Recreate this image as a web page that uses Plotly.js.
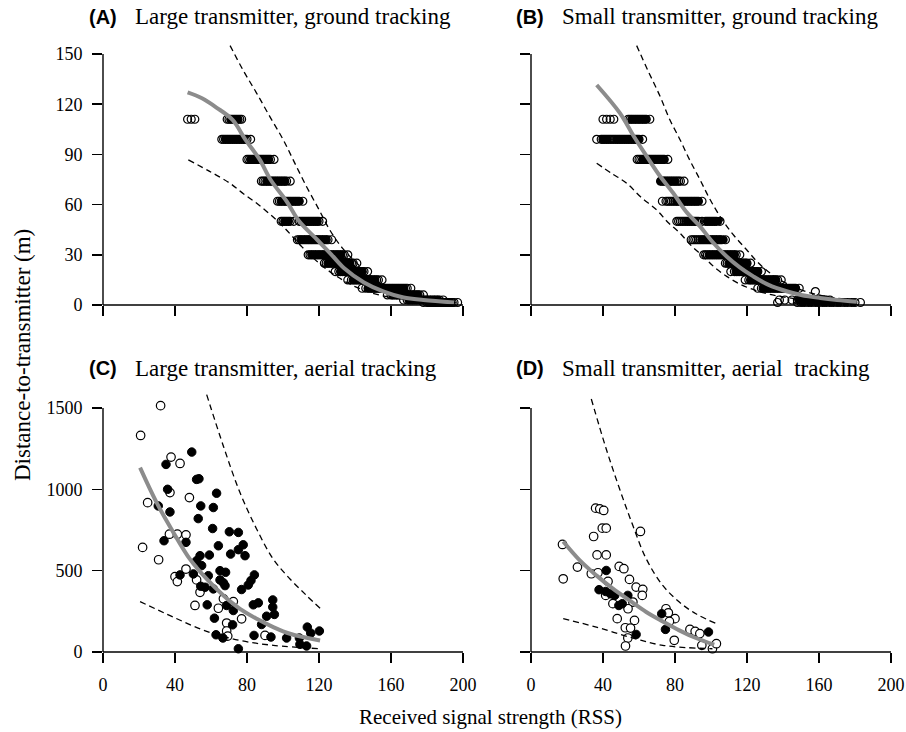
<!DOCTYPE html>
<html>
<head>
<meta charset="utf-8">
<script src="https://cdn.plot.ly/plotly-3.0.1.min.js"></script>
<style>html,body{margin:0;padding:0;background:#fff;}#chart{width:906px;height:732px;}</style>
</head>
<body>
<div id="chart"></div>
<script>
// ---------- DATA ----------
// Panel A: Large transmitter, ground tracking (distance levels and RSS readings per level)
const aDist = [111, 99, 87, 74, 62, 50, 39, 30, 25, 20, 15, 10, 6, 3, 1.5];
const aRss = [
  [47, 49, 51, 69, 70, 71, 72, 73, 74, 75, 76, 77],
  [66, 67, 68, 69, 70, 71, 72, 73, 74, 75, 76, 77, 78, 79, 80, 82],
  [80, 81, 82, 83, 84, 85, 86, 87, 88, 89, 90, 91, 92, 93, 95],
  [88, 89, 90, 91, 92, 93, 94, 95, 96, 97, 98, 99, 100, 101, 102, 104],
  [97, 98, 99, 100, 101, 102, 103, 104, 105, 106, 107, 108, 109, 111],
  [99, 100, 101, 102, 103, 104, 106, 109, 110, 111, 112, 113, 114, 115, 116, 117, 118, 119, 120, 122],
  [108, 109, 110, 111, 112, 113, 114, 115, 116, 117, 118, 119, 120, 121, 122, 123, 124, 125, 127],
  [114, 115, 116, 117, 118, 119, 120, 121, 122, 123, 124, 125, 126, 127, 128, 129, 130, 131, 132, 133, 134, 136],
  [123, 124, 125, 126, 127, 128, 129, 130, 131, 132, 133, 134, 135, 136, 137, 138, 139, 141],
  [129, 131, 132, 133, 134, 135, 136, 137, 138, 139, 140, 141, 142, 143, 144, 145, 147],
  [136, 138, 139, 140, 141, 142, 143, 144, 145, 146, 147, 148, 149, 150, 151, 152, 153, 155],
  [144, 146, 148, 149, 150, 151, 152, 153, 154, 155, 156, 157, 158, 159, 160, 161, 162, 163, 164, 165, 166, 167, 168, 169, 171],
  [158, 160, 161, 162, 163, 164, 165, 166, 167, 168, 169, 170, 171, 172, 173, 174, 175, 176, 178],
  [167, 169, 170, 171, 172, 173, 174, 175, 176, 177, 178, 179, 180, 181, 182, 183, 184, 185, 186, 187, 189],
  [178, 180, 181, 182, 183, 184, 185, 186, 187, 188, 189, 190, 191, 192, 193, 194, 195, 197]
];
// dark (filled) readings at the core of each level in panel A
const aFillRss = [
  [71, 73, 75],
  [68, 70, 72, 74, 76, 78],
  [82, 84, 86, 88, 90, 92],
  [91, 93, 95, 97, 99, 101],
  [99, 101, 103, 105, 107, 109],
  [101, 103, 111, 113, 115, 117, 119],
  [110, 112, 114, 116, 118, 120, 122, 124],
  [116, 118, 120, 122, 124, 126, 128, 130, 132],
  [125, 127, 129, 131, 133, 135, 137],
  [132, 134, 136, 138, 140, 142, 144],
  [139, 141, 143, 145, 147, 149, 151],
  [147, 149, 151, 153, 155, 157, 159, 161, 163, 165, 167],
  [161, 163, 165, 167, 169, 171, 173, 175],
  [170, 172, 174, 176, 178, 180, 182, 184, 186],
  [181, 183, 185, 187, 189, 191, 193]
];
const aFitX = [47, 55, 63, 72, 79, 87, 93, 102, 109, 119, 127, 134, 145, 156, 167, 178, 195];
const aFitY = [127, 123.5, 118, 110.6, 99, 87, 75, 62, 50, 39, 30, 22, 13.5, 8, 4.5, 3, 1.5];
const aUpX = [70.6, 78, 85.4, 93, 100.2, 106, 113.1, 120, 126, 133, 141, 150, 159.4, 168, 178, 196];
const aUpY = [155, 140, 126.5, 112, 98.6, 86, 70.7, 57, 44.8, 34, 25, 16, 9, 5.5, 3, 1.5];
const aLoX = [47.4, 59, 70.6, 78, 85.4, 93, 100.2, 110.4, 120, 130, 140, 150, 160, 170, 180, 195];
const aLoY = [86.7, 80, 72.7, 66.5, 60.8, 54, 46.8, 34.9, 25, 17, 11, 7, 4.5, 3, 2, 1];

// Panel B: Small transmitter, ground tracking
const bDist = [111, 99, 87, 74, 62, 50, 39, 30, 25, 20, 15, 10, 8, 3, 1.5];
const bRss = [
  [40, 42, 44, 46, 54, 55, 56, 57, 58, 59, 60, 61, 62, 63, 64, 66],
  [36.5, 39, 40, 41, 42, 43, 44, 45, 46, 47, 48, 49, 50, 51, 52, 53, 54, 55, 56, 57, 58, 59, 60, 62],
  [59, 60, 61, 62, 63, 64, 65, 66, 67, 68, 69, 70, 71, 72, 73, 74, 76],
  [72, 73, 74, 75, 76, 77, 78, 79, 80, 81, 82, 83, 85],
  [73, 75, 76, 77, 78, 79, 80, 81, 82, 83, 84, 85, 86, 87, 88, 89, 90, 91, 92, 93, 95],
  [81, 82, 83, 84, 85, 86, 87, 88, 89, 90, 91, 92, 93, 95, 97, 98, 99, 100, 101, 102, 103, 105],
  [89, 90, 91, 92, 93, 94, 95, 96, 97, 98, 99, 100, 101, 102, 103, 104, 105, 106, 108],
  [96, 97, 98, 99, 100, 101, 102, 103, 104, 105, 106, 107, 108, 109, 110, 111, 112, 113, 114, 116],
  [108, 109, 110, 111, 112, 113, 114, 115, 116, 117, 118, 119, 120, 122],
  [111, 113, 114, 115, 116, 117, 118, 119, 120, 121, 122, 123, 124, 125, 126, 128],
  [119, 121, 122, 123, 124, 125, 126, 127, 128, 129, 130, 131, 132, 133, 134, 135, 136, 137, 139],
  [126, 128, 129, 130, 131, 132, 133, 134, 135, 136, 137, 138, 139, 140, 141, 142, 143, 144, 145, 146, 147, 149],
  [158],
  [138, 141, 145, 148, 149, 150, 151, 152, 153, 154, 155, 156, 157, 158, 159, 160, 161, 162, 163, 164, 166],
  [137, 148, 150, 152, 154, 156, 158, 160, 162, 164, 166, 168, 170, 172, 174, 176, 178, 180, 183]
];
const bFillRss = [
  [56, 58, 60, 62, 64],
  [40, 42, 48, 50, 52, 54, 56, 58, 60],
  [62, 64, 66, 68, 70, 72, 74],
  [72, 74, 76, 78, 80],
  [81, 83, 85, 87, 89, 91, 93],
  [87, 89, 91, 98, 100, 102, 104],
  [95, 97, 99, 101, 103, 105, 107],
  [99, 101, 103, 105, 107, 109, 111, 113],
  [110, 112, 114, 116, 118, 120],
  [114, 116, 118, 120, 122, 124, 126],
  [122, 124, 126, 128, 130, 132, 134, 136],
  [129, 131, 133, 135, 137, 139, 141, 143, 145, 147],
  [],
  [149, 151, 153, 155, 157, 159, 161, 163],
  [151, 155, 159, 163, 167, 171, 175, 179]
];
const bFitX = [36.5, 49.4, 57, 64.3, 71, 79, 86, 93.9, 101, 108.7, 116, 123.5, 132, 142, 150, 160.6, 170, 181];
const bFitY = [131.5, 114.7, 101, 88.8, 78, 66.9, 56, 47, 37.5, 29, 22.5, 17.1, 12, 8.2, 6, 4.2, 3, 2];
const bUpX = [58.7, 65, 71.7, 77, 82.8, 88, 93.9, 99, 105, 112, 119.8, 126, 132.8, 140, 150, 160, 170, 182];
const bUpY = [155, 140, 124.7, 111, 98.8, 87, 74.9, 64, 53, 42.5, 33, 25.5, 19.1, 14, 9, 6, 4, 2.5];
const bLoX = [36.5, 45, 53.2, 61, 69.8, 76, 82.8, 89, 95.7, 102, 108.7, 116, 124, 132, 142, 152, 165, 182];
const bLoY = [84.7, 78.5, 72.7, 64.5, 56.8, 49.5, 42.9, 35.5, 29, 22.5, 17.1, 12.5, 9, 6.5, 4.5, 3, 2, 1.2];

// Panel C: Large transmitter, aerial tracking
const cOpenX = [32, 20.9, 37.8, 42.8, 37.2, 48, 24.8, 22, 30.9, 36.9, 41.3, 46.1, 40, 41.3, 46.1, 52, 53.9, 51.1, 64.1, 66.9, 72.4, 68.7, 68.7, 69.3, 77, 90];
const cOpenY = [1514, 1331, 1198, 1159, 980, 949, 918, 643, 567, 724, 724, 720, 463, 433, 510, 443, 367, 286, 269, 327, 310, 178, 129, 98, 204, 102];
const cFillX = [49.3, 35, 52, 53.3, 35.9, 37.2, 30.7, 63.1, 54.3, 61.3, 52.9, 60.9, 64.1, 70.2, 75.2, 77.9, 75.2, 70.9, 78.9, 46.1, 33.9, 53.9, 52, 59.1, 54.8, 58.5, 50.2, 42.8, 65, 68.1, 65, 67.8, 66.9, 54.3, 56.7, 61.3, 57.9, 61.9, 68.7, 72.4, 72, 84.1, 82.2, 80.7, 77, 83.5, 86.3, 94.3, 94.3, 95.2, 90.9, 88.1, 62.8, 66.6, 83.9, 93.3, 102, 109.1, 109.4, 113.5, 115.4, 120.2, 113.1, 75.2];
const cFillY = [1229, 1153, 1061, 1065, 1000, 861, 898, 976, 898, 888, 820, 759, 653, 739, 735, 659, 629, 602, 592, 674, 684, 592, 561, 596, 531, 469, 480, 474, 500, 490, 443, 408, 425, 404, 398, 388, 290, 208, 286, 255, 167, 474, 439, 412, 384, 290, 302, 320, 276, 231, 220, 169, 106, 86, 102, 92, 86, 86, 47, 153, 116, 129, 37, 20];
const cFitX = [20.6, 29.8, 39.1, 48.3, 57.6, 66.9, 76.1, 85.4, 94.6, 103.9, 120.6];
const cFitY = [1133, 918, 735, 571, 449, 347, 265, 204, 153, 112, 71];
const cUpX = [57.6, 66.9, 76.1, 85.4, 94.6, 103.9, 113.1, 120.6];
const cUpY = [1582, 1265, 980, 755, 571, 449, 347, 269];
const cLoX = [20.6, 39.1, 57.6, 76.1, 94.6, 120.6];
const cLoY = [310, 214, 127, 71, 41, 20];

// Panel D: Small transmitter, aerial tracking
const dOpenX = [17.5, 17.9, 25.8, 33.5, 34.8, 35.9, 38.2, 40.4, 39.6, 41.8, 36.7, 41.8, 37.2, 42.8, 41.5, 45.5, 47.9, 49, 51.6, 54.7, 58.4, 62.1, 61.8, 60.8, 56.6, 53.9, 57.5, 52.4, 55.3, 53.8, 52.5, 75, 76.3, 80, 76.9, 79.6, 88.3, 91.2, 93.8, 94.9, 100.8, 103];
const dOpenY = [661, 450, 522, 481, 710, 884, 880, 870, 761, 761, 597, 597, 487, 434, 348, 297, 205, 526, 512, 446, 399, 385, 348, 741, 307, 266, 194, 149, 147, 86, 37, 266, 241, 205, 188, 72, 139, 127, 113, 41, 20, 51];
const dFillX = [41.8, 37.8, 41.5, 44.1, 46.5, 53.8, 48.8, 50.7, 58.4, 72.6, 74.7, 98.6];
const dFillY = [501, 383, 372, 358, 348, 348, 286, 297, 108, 235, 139, 123];
const dFitX = [17.9, 27.1, 36.3, 45.5, 54.7, 64, 73.2, 82.4, 91.6, 101.8];
const dFitY = [679, 563, 471, 389, 317, 246, 188, 133, 86, 45];
const dUpX = [33.5, 41.8, 49.2, 56.6, 64, 73.2, 82.4, 91.6, 103];
const dUpY = [1555, 1248, 1003, 777, 573, 409, 307, 235, 174];
const dLoX = [17.9, 36.3, 54.7, 73.2, 100.8];
const dLoY = [205, 153, 92, 41, 20];

const xTicks = [0, 40, 80, 120, 160, 200];
const yTicksGround = [0, 30, 60, 90, 120, 150];
const yTicksAerial = [0, 500, 1000, 1500];

const panelLetters = ['(A)', '(B)', '(C)', '(D)'];
const panelTitles = ['Large transmitter, ground tracking', 'Small transmitter, ground tracking',
                     'Large transmitter, aerial tracking', 'Small transmitter, aerial\u00a0 tracking'];
const xTitle = 'Received signal strength (RSS)';
const yTitle = 'Distance-to-transmitter (m)';

// ---------- BUILD ----------
const W = 906, H = 732;
const SERIF = 'Liberation Serif';
const SANS = 'Liberation Sans';

function flatten(levels, rows) {
  const x = [], y = [];
  rows.forEach((r, i) => r.forEach(v => { x.push(v); y.push(levels[i]); }));
  return {x, y};
}

const groundMarker = {symbol: 'circle-open', size: 8, color: '#000', line: {width: 1.2, color: '#000'}};
const groundFill = {symbol: 'circle', size: 7.5, color: '#000', line: {width: 0.8, color: '#000'}};
const openMarker = {symbol: 'circle', size: 8.5, color: '#fff', line: {width: 1.2, color: '#000'}};
const fillMarker = {symbol: 'circle', size: 8.5, color: '#000', line: {width: 1, color: '#000'}};
const fitLine = {color: '#8c8c8c', width: 4, shape: 'spline'};
const dashLine = {color: '#000', width: 1.3, dash: '6px,4px', shape: 'spline'};

const traces = [];
function pts(x, y, ax, marker) {
  traces.push({type: 'scatter', mode: 'markers', x, y, xaxis: 'x' + ax, yaxis: 'y' + ax,
    marker, cliponaxis: false, hoverinfo: 'skip', showlegend: false});
}
function line(x, y, ax, l) {
  traces.push({type: 'scatter', mode: 'lines', x, y, xaxis: 'x' + ax, yaxis: 'y' + ax,
    line: l, hoverinfo: 'skip', showlegend: false});
}

const A = flatten(aDist, aRss), B = flatten(bDist, bRss);
const AF = flatten(aDist, aFillRss), BF = flatten(bDist, bFillRss);
pts(A.x, A.y, '', groundMarker); pts(AF.x, AF.y, '', groundFill);
line(aUpX, aUpY, '', dashLine); line(aLoX, aLoY, '', dashLine); line(aFitX, aFitY, '', fitLine);

pts(B.x, B.y, '2', groundMarker); pts(BF.x, BF.y, '2', groundFill);
line(bUpX, bUpY, '2', dashLine); line(bLoX, bLoY, '2', dashLine); line(bFitX, bFitY, '2', fitLine);

pts(cOpenX, cOpenY, '3', openMarker); pts(cFillX, cFillY, '3', fillMarker);
line(cUpX, cUpY, '3', dashLine); line(cLoX, cLoY, '3', dashLine); line(cFitX, cFitY, '3', fitLine);

pts(dOpenX, dOpenY, '4', openMarker); pts(dFillX, dFillY, '4', fillMarker);
line(dUpX, dUpY, '4', dashLine); line(dLoX, dLoY, '4', dashLine); line(dFitX, dFitY, '4', fitLine);

// geometry (pixels)
const xLeftDom = [103 / W, 463 / W];
const xRightDom = [531 / W, 891 / W];
const topDom = [(H - 305) / H, (H - 40.6) / H];
const botDom = [(H - 652) / H, (H - 391.7) / H];
const topRange = [0, 158], botRange = [0, 1600];

const tickFont = {family: SERIF, size: 18, color: '#000'};
function xAx(dom, labels, anchor) {
  return {domain: dom, range: [0, 200], anchor, tickvals: xTicks, showticklabels: labels,
    ticks: 'outside', ticklen: 10, tickwidth: 1.4, tickcolor: '#000', showline: false,
    showgrid: false, zeroline: false, ticklabelstandoff: 6, tickfont: tickFont};
}
function yAx(dom, range, vals, labels, anchor) {
  return {domain: dom, range, anchor, tickvals: vals, showticklabels: labels,
    ticks: 'outside', ticklen: 10, tickwidth: 1.4, tickcolor: '#000', showline: false,
    showgrid: false, zeroline: false, ticklabelstandoff: 6, tickfont: tickFont};
}

function py(dom, range, v) { return dom[0] + (dom[1] - dom[0]) * (v - range[0]) / (range[1] - range[0]); }
const shapes = [];
function axisLines(xd, yd, yr, ymax) {
  const y0 = py(yd, yr, 0), y1 = py(yd, yr, ymax);
  shapes.push({type: 'line', xref: 'paper', yref: 'paper', x0: xd[0], x1: xd[0], y0: y0, y1: y1, line: {color: '#000', width: 1.4}});
  shapes.push({type: 'line', xref: 'paper', yref: 'paper', x0: xd[0], x1: xd[1], y0: y0, y1: y0, line: {color: '#000', width: 1.4}});
}
axisLines(xLeftDom, topDom, topRange, 150);
axisLines(xRightDom, topDom, topRange, 150);
axisLines(xLeftDom, botDom, botRange, 1500);
axisLines(xRightDom, botDom, botRange, 1500);

const annotations = [];
const titlePos = [[103, 133, 17], [530, 560, 17], [103, 133, 368], [530, 560, 368]];
titlePos.forEach((p, i) => {
  annotations.push({xref: 'paper', yref: 'paper', x: p[0] / W, y: 1 - p[2] / H, xanchor: 'center', yanchor: 'middle',
    text: '<b>' + panelLetters[i] + '</b>', showarrow: false, font: {family: SANS, size: 20, color: '#000'}});
  annotations.push({xref: 'paper', yref: 'paper', x: p[1] / W, y: 1 - p[2] / H, xanchor: 'left', yanchor: 'middle',
    text: panelTitles[i], showarrow: false, font: {family: SERIF, size: 23, color: '#000'}});
});
annotations.push({xref: 'paper', yref: 'paper', x: 490 / W, y: 1 - 717 / H, xanchor: 'center', yanchor: 'middle',
  text: xTitle, showarrow: false, font: {family: SERIF, size: 21, color: '#000'}});
annotations.push({xref: 'paper', yref: 'paper', x: 22 / W, y: 1 - 355 / H, xanchor: 'center', yanchor: 'middle',
  text: yTitle, textangle: -90, showarrow: false, font: {family: SERIF, size: 23, color: '#000'}});

const layout = {
  width: W, height: H, margin: {l: 0, r: 0, t: 0, b: 0},
  font: {family: SERIF, color: '#000'},
  paper_bgcolor: '#fff', plot_bgcolor: 'rgba(0,0,0,0)', showlegend: false,
  xaxis: xAx(xLeftDom, false, 'y'),
  yaxis: yAx(topDom, topRange, yTicksGround, true, 'x'),
  xaxis2: xAx(xRightDom, false, 'y2'),
  yaxis2: yAx(topDom, topRange, yTicksGround, false, 'x2'),
  xaxis3: xAx(xLeftDom, true, 'y3'),
  yaxis3: yAx(botDom, botRange, yTicksAerial, true, 'x3'),
  xaxis4: xAx(xRightDom, true, 'y4'),
  yaxis4: yAx(botDom, botRange, yTicksAerial, false, 'x4'),
  shapes, annotations
};

Plotly.newPlot('chart', traces, layout, {displayModeBar: false, staticPlot: true});
</script>
</body>
</html>
